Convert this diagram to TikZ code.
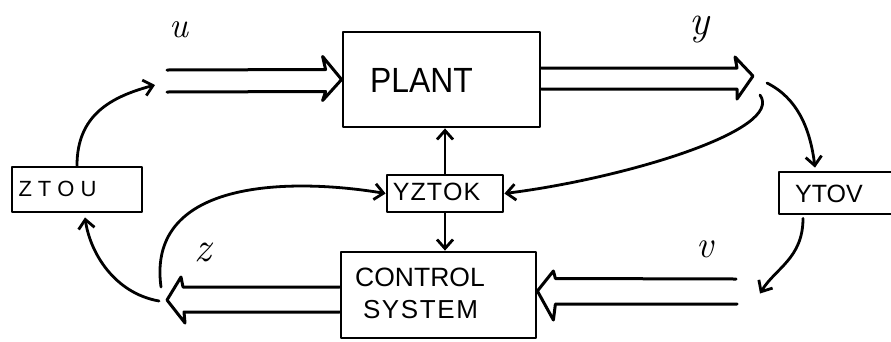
\documentclass[tikz,border=0pt]{standalone}
\usepackage{graphicx}
\usepackage{fontspec}
\setmainfont{Liberation Sans}
\newfontfamily\handfont{Liberation Sans}
\newfontfamily\lmfont{Latin Modern Roman}
\usetikzlibrary{arrows.meta,calc}
\begin{document}
\begin{tikzpicture}[x=1pt,y=-1pt,line width=2.8pt,line cap=round,line join=round,
  box/.style={draw,line width=2.8pt,inner sep=0pt},
  txt/.style={inner sep=0pt,font=#1},
  sig/.style={inner sep=0pt,font=\fontsize{#1}{#1}\lmfont\itshape},
  arr/.style={-{Straight Barb[length=9pt,width=16pt]}},
  dbl/.style={line width=3pt}]
\clip (0,0) rectangle (891,341);
\fill[white] (0,0) rectangle (891,341);
% boxes
\node[box,minimum width=197pt,minimum height=95pt] (plant) at (441.5,79.5) {};
\node[txt={\fontsize{35}{37}\handfont}] (planttxt) at (421.5,80) {\scalebox{0.91}[1]{PLANT}};
\node[box,minimum width=116pt,minimum height=37pt] (yztok) at (445,193.5) {};
\node[txt={\fontsize{25}{27}\handfont}] (yztoktxt) at (436.5,191.5) {Y\kern1pt Z\kern1pt T\kern1pt O\kern1pt K};
\node[box,minimum width=130pt,minimum height=45pt] (ztou) at (77,189.5) {};
\node[txt={\fontsize{22}{24}\handfont}] (ztoutxt) at (57.5,189) {Z\kern6pt T\kern6pt O\kern6pt U};
\node[box,minimum width=140pt,minimum height=42pt] (ytov) at (849,193) {};
\node[txt={\fontsize{25}{27}\handfont}] (ytovtxt) at (829,194) {YTOV};
\node[box,minimum width=195pt,minimum height=86pt] (ctrl) at (438.5,295) {};
\node[txt={\fontsize{26.5}{28}\handfont}] (ctrltxt1) at (420,277.5) {CONTROL};
\node[txt={\fontsize{26}{28}\handfont}] (ctrltxt2) at (420.5,310) {S\kern1.6pt Y\kern1.6pt S\kern1.6pt T\kern1.6pt E\kern1.6pt M};
% signal labels
\node[sig=36] (ulbl) at (179,30) {u};
\node[sig=42] (ylbl) at (699,30) {y};
\node[sig=42] (zlbl) at (203,252) {z};
\node[sig=38] (vlbl) at (705,249) {v};
% coordinates of free ends
\coordinate (utail) at (167,81);
\coordinate (yhead) at (753,76);
\coordinate (vtail) at (736,291.5);
\coordinate (zhead) at (167,300);
% double arrows
\draw[dbl] ($(utail)+(0,-11)$) -- ($(plant.west)+(-16,-10)$) -- ($(plant.west)+(-19,-23)$)
  -- (plant.west) -- ($(plant.west)+(-19,21)$) -- ($(plant.west)+(-16,12)$) -- ($(utail)+(0,11)$);
\draw[dbl] ($(plant.east)+(0,-11.5)$) -- ($(yhead)+(-16,-8)$) -- ($(yhead)+(-18,-19)$)
  -- (yhead) -- ($(yhead)+(-16,23)$) -- ($(yhead)+(-16,13)$) -- ($(plant.east)+(0,9.5)$);
\draw[dbl] ($(vtail)+(0,-12.5)$) -- ($(ctrl.east)+(18,-16.5)$) -- ($(ctrl.east)+(16,-24)$)
  -- ($(ctrl.east)+(0,-4)$) -- ($(ctrl.east)+(16,25)$) -- ($(ctrl.east)+(18,9)$) -- ($(vtail)+(1,12.5)$);
\draw[dbl] ($(ctrl.west)+(0,-8)$) -- ($(zhead)+(16,-13)$) -- ($(zhead)+(14,-23)$)
  -- (zhead) -- ($(zhead)+(18,23)$) -- ($(zhead)+(17,12)$) -- ($(ctrl.west)+(0,17)$);
% single arrows
\draw[arr] (yztok.north) -- (yztok.north |- plant.south);
\draw[arr] (yztok.south) -- (yztok.south |- ctrl.north);
\draw[arr] (ztou.north) .. controls +(0,-50) and +(-45,12) .. ($(utail)+(-12,4)$);
\draw[arr] ($(zhead)+(-8,1)$) .. controls +(-45,-8) and +(5,35) .. ($(ztou.south)+(8,4)$);
\draw[arr] ($(zhead)+(-6,-13)$) .. controls +(-15,-110) and +(-90,-15) .. (yztok.west);
\draw[arr] ($(yhead)+(7,19)$) .. controls +(25,35) and +(120,-15) .. (yztok.east);
\draw[arr] ($(yhead)+(14,7)$) .. controls +(30,15) and +(-5,-40) .. ($(ytov.north)+(-34,-3)$);
\draw[arr] ($(ytov.south)+(-46,3)$) .. controls +(0,40) and +(15,-25) .. ($(vtail)+(24,2)$);
\end{tikzpicture}
\end{document}
